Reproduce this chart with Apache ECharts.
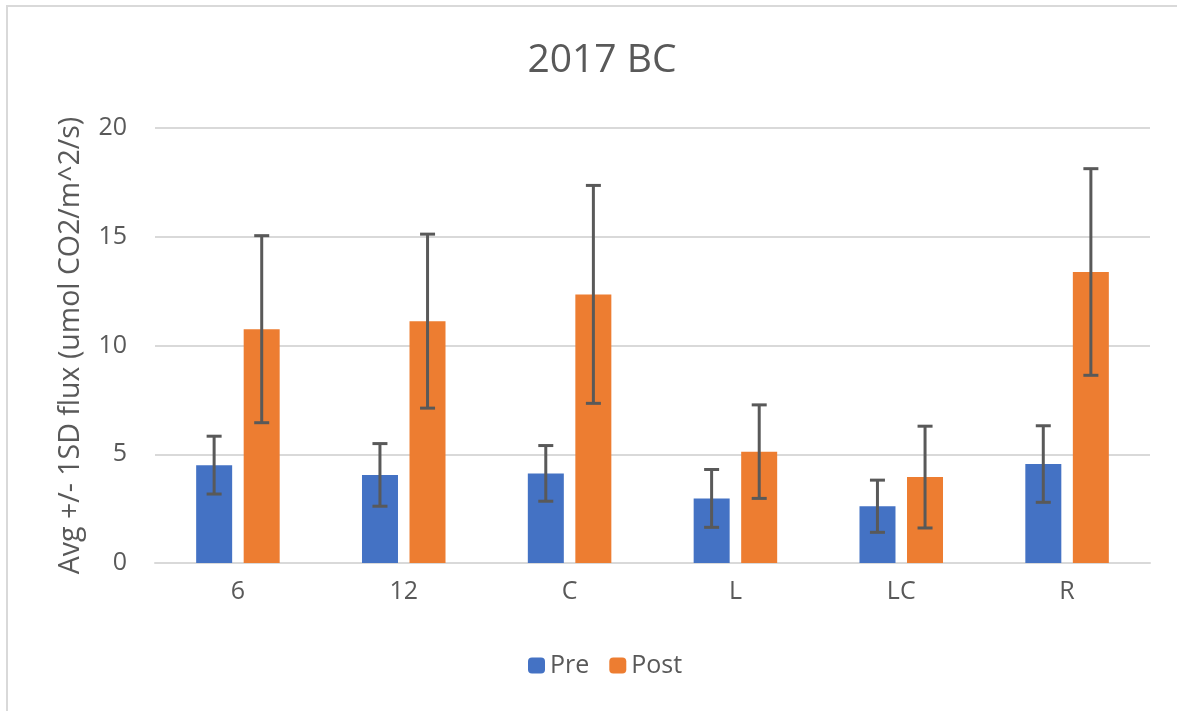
<!DOCTYPE html>
<html>
<head>
<meta charset="utf-8">
<script src="https://cdn.jsdelivr.net/npm/echarts@6/dist/echarts.min.js"></script>
<style>
  html, body { margin: 0; padding: 0; background: #fff; }
  #chart { width: 1177px; height: 711px; }
</style>
</head>
<body>
<div id="chart"></div>
<script>
const categories = ['6', '12', 'C', 'L', 'LC', 'R']
const preMean = [4.5, 4.05, 4.12, 2.97, 2.61, 4.55]
const preSD = [1.33, 1.44, 1.28, 1.33, 1.2, 1.76]
const postMean = [10.75, 11.12, 12.35, 5.12, 3.95, 13.38]
const postSD = [4.3, 4.0, 5.01, 2.15, 2.34, 4.75]

const textColor = '#595959'
const font = 'Open Sans'
const barWidth = 36
const pairOffset = 23.8 // half of bar width + gap

// error bar data: [categoryIndex, mean, sd]
function errData(mean, sd) {
  return mean.map((m, i) => [i, m, sd[i]])
}

function errRender(offset) {
  return function (params, api) {
    const i = api.value(0)
    const m = api.value(1)
    const sd = api.value(2)
    const top = api.coord([i, m + sd])
    const bot = api.coord([i, m - sd])
    const x = top[0] + offset
    const cap = 7.5
    const style = { stroke: '#595959', lineWidth: 3 }
    return {
      type: 'group',
      children: [
        { type: 'line', shape: { x1: x, y1: top[1], x2: x, y2: bot[1] }, style },
        { type: 'line', shape: { x1: x - cap, y1: top[1], x2: x + cap, y2: top[1] }, style },
        { type: 'line', shape: { x1: x - cap, y1: bot[1], x2: x + cap, y2: bot[1] }, style }
      ]
    }
  }
}

const chart = echarts.init(document.getElementById('chart'))
chart.setOption({
  animation: false,
  color: ['#4472C4', '#ED7D31'],
  textStyle: { fontFamily: font },
  graphic: [
    {
      type: 'rect',
      shape: { x: 7, y: 6, width: 1250, height: 800 },
      style: { fill: 'none', stroke: '#d9d9d9', lineWidth: 2 },
      silent: true
    }
  ],
  title: {
    text: '2017 BC',
    left: 597,
    textAlign: 'center',
    top: 36,
    textStyle: { color: textColor, fontSize: 39, fontWeight: 'normal', fontFamily: font }
  },
  legend: {
    bottom: 28,
    left: 523,
    itemWidth: 17,
    itemHeight: 16,
    itemGap: 20,
    data: ['Pre', 'Post'],
    textStyle: { color: textColor, fontSize: 25, fontFamily: font }
  },
  grid: {
    left: 155,
    right: 27,
    top: 128,
    bottom: 148
  },
  xAxis: {
    type: 'category',
    data: categories,
    axisTick: { show: false },
    axisLine: { lineStyle: { color: '#d9d9d9', width: 2 } },
    axisLabel: { color: textColor, fontSize: 25, margin: 16, fontFamily: font }
  },
  yAxis: {
    type: 'value',
    min: 0,
    max: 20,
    interval: 5,
    name: 'Avg +/- 1SD flux (umol CO2/m^2/s)',
    nameLocation: 'middle',
    nameGap: 70,
    nameTextStyle: { color: textColor, fontSize: 28.5, fontFamily: font },
    axisLabel: { color: textColor, fontSize: 25, margin: 28, fontFamily: font },
    splitLine: { lineStyle: { color: '#d9d9d9', width: 2 } }
  },
  series: [
    {
      name: 'Pre',
      type: 'bar',
      barWidth: barWidth,
      barGap: '32%',
      data: preMean
    },
    {
      name: 'Post',
      type: 'bar',
      barWidth: barWidth,
      data: postMean
    },
    {
      type: 'custom',
      name: 'Pre SD',
      renderItem: errRender(-pairOffset),
      data: errData(preMean, preSD),
      encode: { x: 0, y: [1] },
      z: 10
    },
    {
      type: 'custom',
      name: 'Post SD',
      renderItem: errRender(pairOffset),
      data: errData(postMean, postSD),
      encode: { x: 0, y: [1] },
      z: 10
    }
  ]
})
</script>
</body>
</html>
